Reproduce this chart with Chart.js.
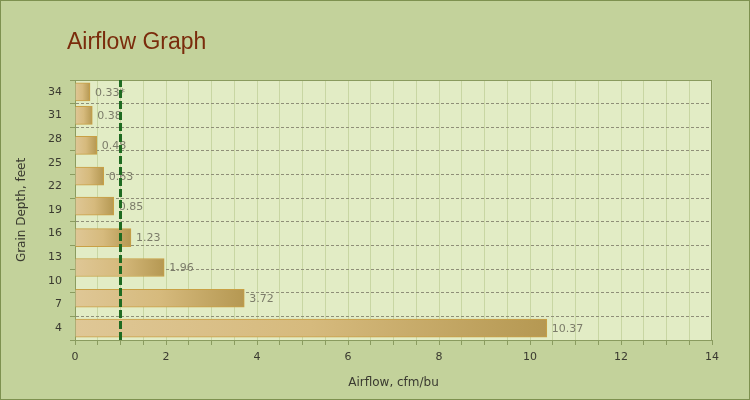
<!DOCTYPE html>
<html>
<head>
<meta charset="utf-8">
<script src="https://cdn.jsdelivr.net/npm/chart.js@4"></script>
<style>
  html, body { margin: 0; padding: 0; background: #c3d29b; }
  #wrap { width: 750px; height: 400px; }
</style>
</head>
<body>
<div id="wrap"><canvas id="chart" width="750" height="400"></canvas></div>
<script>
// Grain depth (feet) of each bar and the airflow (cfm/bu) there
const depths = [34, 31, 27.2, 23.3, 19.5, 15.5, 11.7, 7.8, 4];
const airflow = [0.33, 0.38, 0.48, 0.63, 0.85, 1.23, 1.96, 3.72, 10.37];
const valueLabels = ['0.33*', '0.38', '0.48', '0.63', '0.85', '1.23', '1.96', '3.72', '10.37'];

// Axis ticks
const depthTicks = [4, 7, 10, 13, 16, 19, 22, 25, 28, 31, 34];
const depthGrid = [2.5, 5.5, 8.5, 11.5, 14.5, 17.5, 20.5, 23.5, 26.5, 29.5, 32.5, 35.5];
const depthMin = 2.5, depthMax = 35.5;
const airflowMin = 0, airflowMax = 14, airflowLabelStep = 2, airflowGridStep = 0.5;

// Reference airflow marker (dashed green line)
const targetAirflow = 1;

const axisColor = '#8a9b5f';
const font = { family: 'DejaVu Sans', size: 11 };
const titleFont = { family: 'DejaVu Sans', size: 12 };

// background, plot frame, title and the value labels
const decor = {
  id: 'decor',
  beforeDraw(chart) {
    const { ctx, chartArea: a } = chart;
    ctx.save();
    ctx.fillStyle = '#c3d29b';
    ctx.fillRect(0, 0, chart.width, chart.height);
    ctx.fillStyle = '#e2ecc5';
    ctx.fillRect(a.left, a.top, a.right - a.left, a.bottom - a.top);
    ctx.restore();
  },
  beforeDatasetsDraw(chart) {
    const { ctx, chartArea: a } = chart;
    ctx.save();
    ctx.strokeStyle = axisColor;
    ctx.lineWidth = 1;
    ctx.strokeRect(Math.round(a.left) + 0.5, Math.round(a.top) + 0.5,
      Math.round(a.right - a.left) - 1, Math.round(a.bottom - a.top));
    ctx.restore();
  },
  afterDatasetDraw(chart, args) {
    if (args.index !== 1) return;
    const { ctx } = chart;
    ctx.save();
    ctx.font = '11px "DejaVu Sans"';
    ctx.fillStyle = '#7c7c6a';
    ctx.textBaseline = 'middle';
    ctx.textAlign = 'left';
    args.meta.data.forEach((bar, i) => {
      ctx.fillText(valueLabels[i], bar.x + 5, bar.y + 1);
    });
    ctx.restore();
  },
  afterDraw(chart) {
    const { ctx } = chart;
    ctx.save();
    ctx.font = '23px "Liberation Sans"';
    ctx.fillStyle = '#7a2c0c';
    ctx.textBaseline = 'alphabetic';
    ctx.fillText('Airflow Graph', 67, 49);
    ctx.strokeStyle = '#7e9150';
    ctx.lineWidth = 1;
    ctx.strokeRect(0.5, 0.5, chart.width - 1, chart.height - 1);
    ctx.restore();
  }
};

const barFill = (c) => {
  const chart = c.chart;
  if (!chart.chartArea || c.dataIndex === undefined) return '#d6bd85';
  const xs = chart.scales.x;
  const x0 = xs.getPixelForValue(0);
  const x1 = xs.getPixelForValue(airflow[c.dataIndex]);
  const g = chart.ctx.createLinearGradient(x0, 0, x1, 0);
  g.addColorStop(0, '#dfc796');
  g.addColorStop(0.5, '#d6ba7d');
  g.addColorStop(1, '#b59852');
  return g;
};

new Chart(document.getElementById('chart'), {
  type: 'bar',
  data: {
    datasets: [
      {
        type: 'line',
        data: [{ x: targetAirflow, y: depthMin }, { x: targetAirflow, y: depthMax }],
        borderColor: '#1f6b21',
        borderWidth: 3,
        borderDash: [8, 3],
        pointRadius: 0,
        order: 0
      },
      {
        type: 'bar',
        data: depths.map((d, i) => ({ x: airflow[i], y: d })),
        backgroundColor: barFill,
        borderColor: '#c9a044',
        borderWidth: 1,
        barThickness: 18,
        order: 1
      }
    ]
  },
  options: {
    indexAxis: 'y',
    responsive: false,
    animation: false,
    layout: { padding: { top: 80, right: 38, bottom: 0, left: 0 } },
    plugins: { legend: { display: false }, tooltip: { enabled: false } },
    scales: {
      x: {
        type: 'linear',
        min: airflowMin,
        max: airflowMax,
        bounds: 'data',
        offset: false,
        afterFit(scale) { scale.height = 60; },
        ticks: {
          stepSize: airflowGridStep,
          autoSkip: false,
          maxRotation: 0,
          padding: 6,
          color: '#3a3a30',
          font,
          callback: (v) => (v % airflowLabelStep === 0 ? String(v) : '')
        },
        grid: {
          offset: false,
          color: '#c8d6a3',
          lineWidth: 1,
          tickLength: 5,
          tickColor: axisColor
        },
        border: { color: axisColor, width: 1 },
        title: {
          display: true,
          text: 'Airflow, cfm/bu',
          color: '#3a3a30',
          font: titleFont,
          padding: { top: 0, bottom: 10 }
        }
      },
      y: {
        type: 'linear',
        min: depthMin,
        max: depthMax,
        bounds: 'data',
        offset: false,
        afterFit(scale) { scale.width = 75; },
        afterBuildTicks(scale) {
          scale.ticks = depthGrid.concat(depthTicks).sort((a, b) => a - b).map(v => ({ value: v }));
        },
        ticks: {
          autoSkip: false,
          padding: 8,
          color: '#3a3a30',
          font,
          callback: (v) => (depthTicks.includes(v) ? String(v) : '')
        },
        grid: {
          offset: false,
          color: (c) => (c.tick && depthGrid.includes(c.tick.value) ? '#8f8f78' : 'rgba(0,0,0,0)'),
          tickColor: (c) => (c.tick && depthGrid.includes(c.tick.value) ? axisColor : 'rgba(0,0,0,0)'),
          lineWidth: 1,
          tickLength: 5
        },
        border: { color: axisColor, width: 1, dash: [3, 2] },
        title: {
          display: true,
          text: 'Grain Depth, feet',
          color: '#3a3a30',
          font: titleFont,
          padding: { top: 15, bottom: 0 }
        }
      }
    }
  },
  plugins: [decor]
});
</script>
</body>
</html>
